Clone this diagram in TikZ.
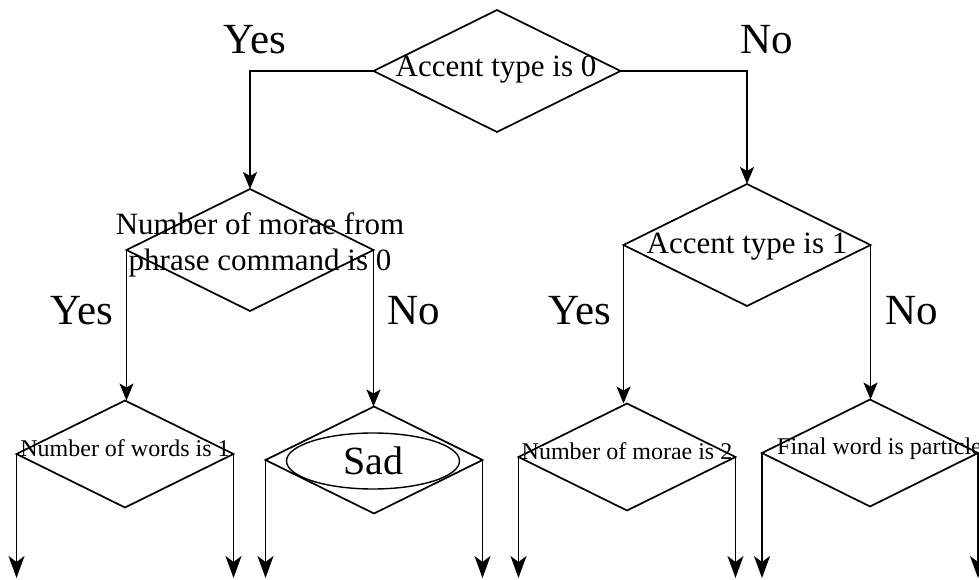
\documentclass[tikz,border=0pt]{standalone}
\usepackage{fontspec}
\setmainfont{Liberation Serif}
\usetikzlibrary{shapes.geometric,arrows.meta}
\begin{document}
\begin{tikzpicture}[x=1pt,y=-1pt,
  decbig/.style={draw,shape=diamond,line width=1.7pt,inner sep=0pt,outer sep=0pt,minimum width=247pt,minimum height=122pt},
  decsmall/.style={draw,shape=diamond,line width=1.7pt,inner sep=0pt,outer sep=0pt,minimum width=217pt,minimum height=107pt},
  midtxt/.style={inner sep=0pt,font=\fontsize{31}{36}\selectfont},
  smalltxt/.style={inner sep=0pt,font=\fontsize{24}{28}\selectfont},
  yesno/.style={inner sep=0pt,font=\fontsize{43}{43}\selectfont},
  conn/.style={line width=1.7pt,-{Stealth[length=17pt,width=14pt,inset=4pt]}},
  connlow/.style={line width=1.7pt,-{Stealth[length=22pt,width=16pt,inset=6pt]}}]
\useasboundingbox (0,0) rectangle (979,580);
% diamonds
\node[decbig] (d0) at (497,71) {};
\node[decbig] (d1) at (250,250) {};
\node[decbig] (d2) at (747,245) {};
\node[decsmall] (d3) at (125,454) {};
\node[decsmall] (d4) at (374,460) {};
\node[decsmall] (d5) at (627,457) {};
\node[decsmall,minimum width=216pt] (d6) at (870,453) {};
% texts
\node[midtxt] (t0) at (496,70) {Accent type is 0};
\node[midtxt,align=center] (t1) at (260,245) {Number of morae from\\phrase command is 0};
\node[midtxt] (t2) at (747,247) {Accent type is 1};
\node[smalltxt] (t3) at (125,448) {Number of words is 1};
\node[draw,shape=ellipse,line width=1.4pt,inner sep=0pt,minimum width=173pt,minimum height=56pt,font=\fontsize{40}{40}\selectfont] (sad) at (373,461) {Sad};
\node[smalltxt] (t5) at (627,451) {Number of morae is 2};
\node[smalltxt,anchor=west] (t6) at (777,449) {Final word is particle};
% yes/no
\node[yesno] (y0) at (255,40) {Yes};
\node[yesno] (n0) at (767,40) {No};
\node[yesno] (y1) at (82,311) {Yes};
\node[yesno] (n1) at (414,311) {No};
\node[yesno] (y2) at (580,311) {Yes};
\node[yesno] (n2) at (912,311) {No};
% free ends
\coordinate (e1) at (16,578);
\coordinate (e2) at (233,578);
\coordinate (e3) at (266,578);
\coordinate (e4) at (482,578);
\coordinate (e5) at (518,578);
\coordinate (e6) at (737,578);
\coordinate (e7) at (763,578);
\coordinate (e8) at (978,578);
% connectors
\draw[conn] (d0.west) -| (d1.north);
\draw[conn] (d0.east) -| (d2.north);
\draw[conn] (d1.west) -- (d1.west |- d3.north);
\draw[conn] (d1.east) -- (d1.east |- d4.north);
\draw[conn] (d2.west) -- (d2.west |- d5.north);
\draw[conn] (d2.east) -- (d2.east |- d6.north);
\draw[connlow] (d3.west) -- (d3.west |- e1);
\draw[connlow] (d3.east) -- (d3.east |- e2);
\draw[connlow] (d4.west) -- (d4.west |- e3);
\draw[connlow] (d4.east) -- (d4.east |- e4);
\draw[connlow] (d5.west) -- (d5.west |- e5);
\draw[connlow] (d5.east) -- (d5.east |- e6);
\draw[connlow] (d6.west) -- (d6.west |- e7);
\draw[connlow] (d6.east) -- (d6.east |- e8);
\end{tikzpicture}
\end{document}
